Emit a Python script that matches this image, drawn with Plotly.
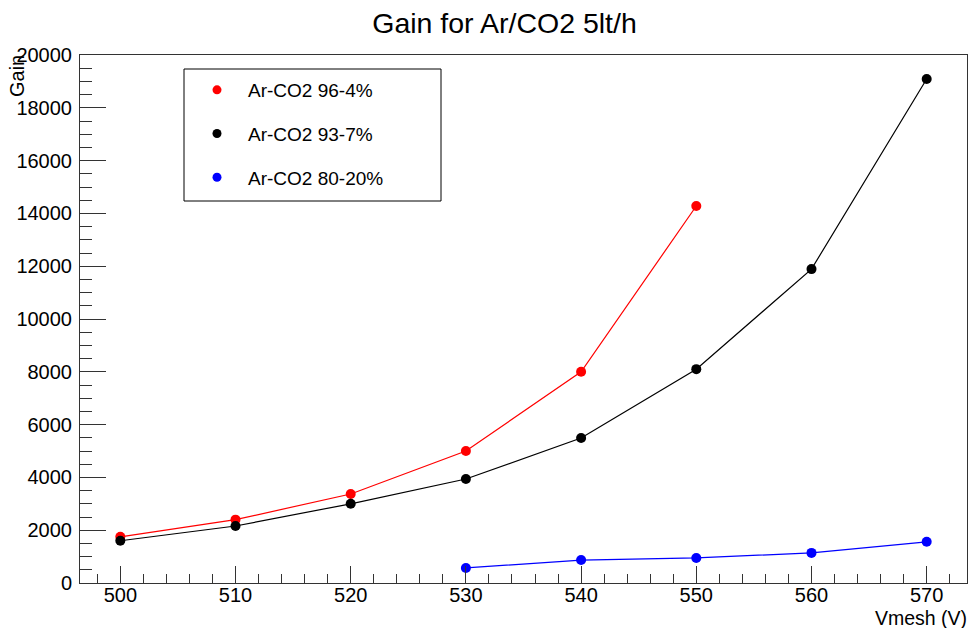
import plotly.graph_objects as go

# Data
vmesh_96 = [500, 510, 520, 530, 540, 550]
gain_96 = [1750, 2400, 3370, 5000, 8000, 14280]

vmesh_93 = [500, 510, 520, 530, 540, 550, 560, 570]
gain_93 = [1600, 2160, 3000, 3940, 5490, 8100, 11890, 19090]

vmesh_80 = [530, 540, 550, 560, 570]
gain_80 = [570, 870, 950, 1140, 1560]

names = ["Ar-CO2 96-4%", "Ar-CO2 93-7%", "Ar-CO2 80-20%"]
colors = ["#ff0000", "#000000", "#0000ff"]
series = [(vmesh_96, gain_96), (vmesh_93, gain_93), (vmesh_80, gain_80)]

FONT = "Liberation Sans, Arial, Helvetica, sans-serif"

fig = go.Figure()
for (xs, ys), name, c in zip(series, names, colors):
    fig.add_trace(go.Scatter(
        x=xs, y=ys, mode="lines+markers", name=name, showlegend=False,
        line=dict(color=c, width=1.2),
        marker=dict(color=c, size=10, symbol="circle"),
    ))
# legend-only marker entries (ROOT style legend shows only markers)
for name, c in zip(names, colors):
    fig.add_trace(go.Scatter(
        x=[None], y=[None], mode="markers", name=name, legendgroup=name,
        marker=dict(color=c, size=9, symbol="circle"),
    ))

W, H = 969, 628
L, R, T, B = 80, 2, 55, 45
pw, ph = W - L - R, H - T - B

def px_x(x):
    return (x - L) / pw

def px_y(y):
    return (H - B - y) / ph

fig.update_layout(
    width=W, height=H,
    margin=dict(l=L, r=R, t=T, b=B, autoexpand=False),
    paper_bgcolor="white", plot_bgcolor="white",
    font=dict(family=FONT, color="black", size=19),
    title=dict(text="Gain for Ar/CO2 5lt/h", x=504.5 / W, xanchor="center",
               y=1 - 23 / H, yanchor="middle", yref="container",
               font=dict(size=28.5, family=FONT, color="black")),
    showlegend=True,
    legend=dict(x=px_x(186), xanchor="left", y=px_y(71), yanchor="top",
                bgcolor="rgba(0,0,0,0)", borderwidth=0,
                tracegroupgap=16, itemwidth=52,
                font=dict(size=19, family=FONT, color="black")),
    shapes=[dict(type="rect", xref="paper", yref="paper",
                 x0=px_x(184), x1=px_x(441), y0=px_y(201), y1=px_y(69),
                 line=dict(color="black", width=1), fillcolor="rgba(0,0,0,0)")],
    annotations=[
        dict(text="Vmesh (V)", xref="paper", yref="paper", x=1, y=0,
             xanchor="right", yanchor="top", xshift=2, yshift=-22,
             showarrow=False, font=dict(size=19.5, family=FONT, color="black")),
        dict(text="Gain", xref="paper", yref="paper", x=0, y=1,
             xanchor="center", yanchor="top", xshift=-(L - 17), yshift=2,
             textangle=-90, showarrow=False,
             font=dict(size=20, family=FONT, color="black")),
    ],
)

fig.update_xaxes(
    range=[496.5, 573.5], tick0=500, dtick=10, automargin=False,
    showgrid=False, zeroline=False,
    showline=True, linecolor="#333", linewidth=1, mirror=True,
    ticks="inside", ticklen=17, tickwidth=1, tickcolor="#333",
    ticklabelstandoff=-6,
    tickfont=dict(size=20, family=FONT, color="black"),
    minor=dict(ticks="inside", ticklen=9, tickwidth=1, tickcolor="#333", dtick=2, tick0=500, showgrid=False),
)
fig.update_yaxes(
    range=[0, 20000], tick0=0, dtick=2000, tickformat="d", automargin=False,
    showgrid=False, zeroline=False,
    showline=True, linecolor="#333", linewidth=1, mirror=True,
    ticks="inside", ticklen=26, tickwidth=1, tickcolor="#333",
    ticklabelstandoff=3,
    tickfont=dict(size=20, family=FONT, color="black"),
    minor=dict(ticks="inside", ticklen=12, tickwidth=1, tickcolor="#333", dtick=500, tick0=0, showgrid=False),
)

fig.write_html("out.html", config={"displayModeBar": False},
               post_script="document.body.style.margin='0';document.body.style.padding='0';")
